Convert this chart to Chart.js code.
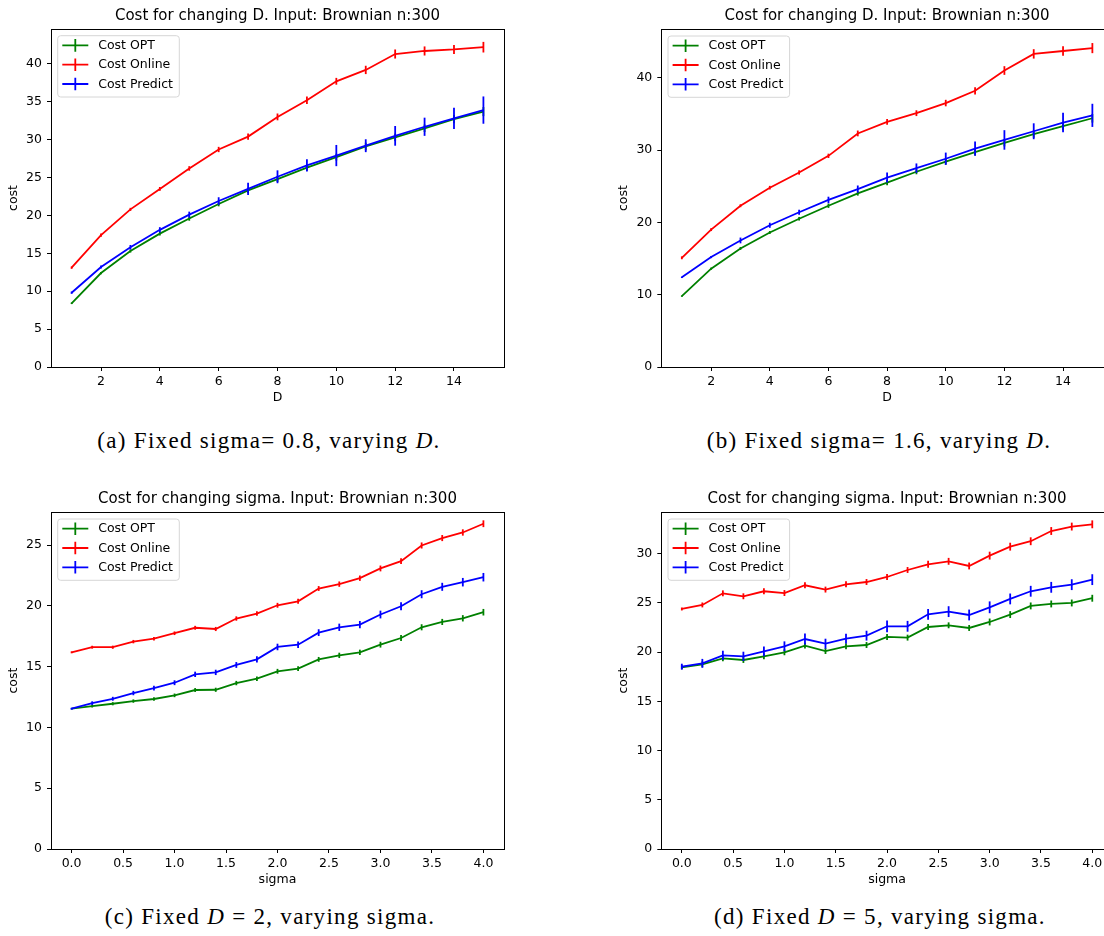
<!DOCTYPE html>
<html>
<head>
<meta charset="utf-8">
<script src="https://cdn.jsdelivr.net/npm/chart.js@4.4.0/dist/chart.umd.min.js"></script>
<style>
body{margin:0;width:1104px;height:936px;overflow:hidden;background:#fff;position:relative}
.panel{position:absolute}
.cap{position:absolute;font-family:"Liberation Serif",serif;font-size:23px;letter-spacing:1.3px;white-space:nowrap;transform:translateX(-50%);color:#000}
</style>
</head>
<body>
<div class="panel" style="left:0;top:0"><canvas id="g_a"></canvas></div>
<div class="panel" style="left:610px;top:0"><canvas id="g_b"></canvas></div>
<div class="panel" style="left:0;top:480px"><canvas id="g_c"></canvas></div>
<div class="panel" style="left:610px;top:480px"><canvas id="g_d"></canvas></div>

<div class="cap" style="left:269px;top:428px">(a) Fixed sigma= 0.8, varying <i>D</i>.</div>
<div class="cap" style="left:879px;top:428px">(b) Fixed sigma= 1.6, varying <i>D</i>.</div>
<div class="cap" style="left:270px;top:904px">(c) Fixed <i>D</i> = 2, varying sigma.</div>
<div class="cap" style="left:880px;top:904px">(d) Fixed <i>D</i> = 5, varying sigma.</div>

<script>
// x values
const d_valores = [1,2,3,4,5,6,7,8,9,10,11,12,13,14,15];
const sigma_valores = [0,0.2,0.4,0.6,0.8,1.0,1.2,1.4,1.6,1.8,2.0,2.2,2.4,2.6,2.8,3.0,3.2,3.4,3.6,3.8,4.0];

// tick labels
const ticks_x_d = [2,4,6,8,10,12,14];
const ticks_x_sigma = [0,0.5,1,1.5,2,2.5,3,3.5,4];
const ticks_y_a = [0,5,10,15,20,25,30,35,40];
const ticks_y_b = [0,10,20,30,40];
const ticks_y_c = [0,5,10,15,20,25];
const ticks_y_d = [0,5,10,15,20,25,30];

const nombres_series = ["Cost OPT","Cost Online","Cost Predict"];

// (a) sigma 0.8
const opt_a = [8.4,12.4,15.3,17.6,19.6,21.5,23.3,24.8,26.3,27.7,29.1,30.3,31.5,32.7,33.7];
const opt_a_err = [0.1,0.15,0.2,0.25,0.3,0.3,0.35,0.4,0.4,0.45,0.5,0.5,0.5,0.55,0.6];
const online_a = [13.1,17.4,20.8,23.5,26.2,28.7,30.4,33.0,35.2,37.7,39.2,41.3,41.7,41.9,42.2];
const online_a_err = [0.15,0.2,0.2,0.25,0.3,0.35,0.4,0.45,0.5,0.45,0.55,0.6,0.6,0.6,0.7];
const predict_a = [9.8,13.2,15.8,18.1,20.1,21.9,23.5,25.1,26.6,27.9,29.2,30.5,31.7,32.8,33.9];
const predict_a_err = [0.15,0.2,0.3,0.35,0.4,0.5,0.8,0.85,0.8,1.4,0.85,1.3,1.2,1.4,1.8];

// (b) sigma 1.6
const opt_b = [9.8,13.6,16.4,18.6,20.5,22.3,24.0,25.5,27.0,28.4,29.7,31.0,32.2,33.3,34.4];
const opt_b_err = [0.1,0.15,0.2,0.2,0.25,0.3,0.3,0.35,0.35,0.4,0.45,0.5,0.5,0.55,0.6];
const online_b = [15.1,19.0,22.3,24.8,26.9,29.2,32.3,33.9,35.1,36.5,38.2,41.0,43.3,43.7,44.1];
const online_b_err = [0.2,0.2,0.2,0.25,0.3,0.3,0.4,0.4,0.4,0.45,0.5,0.6,0.65,0.65,0.7];
const predict_b = [12.4,15.2,17.5,19.6,21.4,23.1,24.6,26.2,27.5,28.8,30.2,31.4,32.6,33.8,34.8];
const predict_b_err = [0.1,0.15,0.4,0.35,0.35,0.45,0.5,0.7,0.65,0.85,1.0,1.35,1.1,1.35,1.6];

// (c) D = 2
const opt_c = [11.54,11.76,11.95,12.17,12.34,12.64,13.08,13.1,13.65,14.01,14.62,14.84,15.6,15.93,16.18,16.81,17.36,18.24,18.68,18.98,19.48];
const opt_c_err = [0.05,0.12,0.13,0.14,0.15,0.15,0.16,0.17,0.18,0.18,0.2,0.2,0.2,0.22,0.22,0.24,0.24,0.25,0.25,0.26,0.27];
const online_c = [16.18,16.6,16.6,17.06,17.3,17.75,18.2,18.1,18.96,19.37,20.05,20.38,21.43,21.79,22.28,23.08,23.68,24.97,25.58,26.04,26.76];
const online_c_err = [0.08,0.12,0.13,0.14,0.15,0.15,0.16,0.17,0.18,0.18,0.2,0.2,0.2,0.22,0.22,0.24,0.24,0.25,0.25,0.26,0.28];
const predict_c = [11.54,12.0,12.36,12.83,13.24,13.68,14.37,14.53,15.14,15.6,16.62,16.81,17.8,18.24,18.46,19.29,19.97,20.96,21.57,21.95,22.36];
const predict_c_err = [0.08,0.15,0.16,0.18,0.2,0.2,0.22,0.22,0.24,0.25,0.27,0.27,0.28,0.3,0.3,0.32,0.32,0.33,0.33,0.35,0.35];

// (d) D = 5
const opt_d = [18.46,18.76,19.37,19.2,19.57,19.98,20.66,20.11,20.59,20.72,21.54,21.47,22.55,22.72,22.45,23.06,23.81,24.69,24.89,24.99,25.47];
const opt_d_err = [0.2,0.3,0.3,0.3,0.3,0.3,0.3,0.3,0.3,0.3,0.3,0.3,0.3,0.3,0.3,0.35,0.35,0.35,0.35,0.35,0.35];
const online_d = [24.38,24.79,25.97,25.67,26.18,26.0,26.79,26.35,26.89,27.12,27.63,28.34,28.92,29.22,28.75,29.8,30.71,31.26,32.3,32.75,32.98];
const online_d_err = [0.15,0.25,0.3,0.3,0.3,0.3,0.3,0.3,0.3,0.3,0.3,0.3,0.35,0.35,0.35,0.4,0.4,0.4,0.4,0.4,0.4];
const predict_d = [18.52,18.86,19.67,19.57,20.08,20.59,21.33,20.86,21.37,21.67,22.62,22.62,23.84,24.11,23.77,24.55,25.4,26.18,26.58,26.85,27.36];
const predict_d_err = [0.3,0.45,0.47,0.47,0.5,0.5,0.55,0.5,0.5,0.5,0.6,0.55,0.55,0.55,0.55,0.6,0.55,0.55,0.55,0.55,0.55];

const colores = ["green","red","blue"];
const fuente = '"DejaVu Sans", sans-serif';

// vertical error bars, drawn right after each line (like matplotlib errorbar)
const barras_error = {
    id: "barras_error",
    afterDatasetDraw(chart, args){
        const ctx = chart.ctx;
        const ds = chart.data.datasets[args.index];
        const x = chart.scales.x, y = chart.scales.y;
        ctx.save();
        ctx.strokeStyle = ds.borderColor;
        ctx.lineWidth = ds.borderWidth;
        ds.data.forEach(function(p, j){
            const e = ds.errores[j];
            const px = x.getPixelForValue(p.x);
            ctx.beginPath();
            ctx.moveTo(px, y.getPixelForValue(p.y - e));
            ctx.lineTo(px, y.getPixelForValue(p.y + e));
            ctx.stroke();
        });
        ctx.restore();
    }
};

// frame, title and the matplotlib-style legend
const marco = {
    id: "marco",
    afterDraw(chart, args, opts){
        const ctx = chart.ctx;
        const a = chart.chartArea;
        ctx.save();
        ctx.strokeStyle = "#000";
        ctx.lineWidth = 1;
        ctx.strokeRect(Math.round(a.left) + 0.5, Math.round(a.top) + 0.5, Math.round(a.right - a.left), Math.round(a.bottom - a.top));

        ctx.fillStyle = "#000";
        ctx.font = "15px " + fuente;
        ctx.textAlign = "center";
        ctx.textBaseline = "alphabetic";
        ctx.fillText(opts.titulo, (a.left + a.right) / 2, a.top - 9);

        // legend box
        const x0 = a.left + 6.7, y0 = a.top + 6.7, w = 121.6, h = 61.3, r = 3;
        ctx.beginPath();
        ctx.moveTo(x0 + r, y0);
        ctx.arcTo(x0 + w, y0, x0 + w, y0 + h, r);
        ctx.arcTo(x0 + w, y0 + h, x0, y0 + h, r);
        ctx.arcTo(x0, y0 + h, x0, y0, r);
        ctx.arcTo(x0, y0, x0 + w, y0, r);
        ctx.closePath();
        ctx.fillStyle = "rgba(255,255,255,0.8)";
        ctx.fill();
        ctx.strokeStyle = "#d6d6d6";
        ctx.stroke();

        ctx.font = "12.5px " + fuente;
        ctx.textAlign = "left";
        ctx.textBaseline = "middle";
        for(let i = 0; i < nombres_series.length; i++){
            const yy = y0 + 9.7 + i * 19.3;
            ctx.strokeStyle = colores[i];
            ctx.lineWidth = 1.8;
            ctx.beginPath();
            ctx.moveTo(x0 + 4.6, yy);
            ctx.lineTo(x0 + 30.6, yy);
            ctx.moveTo(x0 + 17.6, yy - 6.3);
            ctx.lineTo(x0 + 17.6, yy + 6.3);
            ctx.stroke();
            ctx.fillStyle = "#000";
            ctx.fillText(nombres_series[i], x0 + 40.5, yy + 0.5);
        }
        ctx.restore();
    }
};

function grafico(id, cfg){
    const canvas = document.getElementById(id);
    canvas.width = 520;
    canvas.height = Math.round(cfg.abajo + 43);

    const series = [cfg.opt, cfg.online, cfg.predict];
    const errores = [cfg.opt_err, cfg.online_err, cfg.predict_err];

    let datasets = [];
    for(let i = 0; i < 3; i++){
        datasets.push({
            label: nombres_series[i],
            data: cfg.xs.map(function(v, j){ return {x: v, y: series[i][j]}; }),
            errores: errores[i],
            borderColor: colores[i],
            backgroundColor: colores[i],
            borderWidth: 1.8,
            pointRadius: 0,
            tension: 0,
            fill: false,
            order: 2 - i
        });
    }

    new Chart(canvas.getContext("2d"), {
        type: "line",
        data: {datasets: datasets},
        plugins: [barras_error, marco],
        options: {
            responsive: false,
            animation: false,
            events: [],
            layout: {
                padding: {top: cfg.arriba, right: 520 - cfg.derecha, left: 0, bottom: 0}
            },
            plugins: {
                legend: {display: false},
                tooltip: {enabled: false},
                marco: {titulo: cfg.titulo}
            },
            scales: {
                x: {
                    type: "linear",
                    min: cfg.xmin,
                    max: cfg.xmax,
                    afterBuildTicks: function(s){ s.ticks = cfg.ticks_x.map(function(v){ return {value: v}; }); },
                    afterFit: function(s){ s.height = 43; },
                    grid: {drawOnChartArea: false, drawTicks: true, tickLength: 4, tickColor: "#000", tickWidth: 1},
                    border: {display: false},
                    ticks: {
                        color: "#000",
                        padding: 3,
                        maxRotation: 0,
                        font: {family: fuente, size: 12.5},
                        callback: function(v){ return cfg.decimales ? v.toFixed(1) : String(v); }
                    },
                    title: {display: true, text: cfg.titulo_x, color: "#000", font: {family: fuente, size: 12.5}, padding: {top: 0, bottom: 4.5}}
                },
                y: {
                    type: "linear",
                    min: 0,
                    max: cfg.ymax,
                    afterBuildTicks: function(s){ s.ticks = cfg.ticks_y.map(function(v){ return {value: v}; }); },
                    afterFit: function(s){ s.width = cfg.izquierda; },
                    grid: {drawOnChartArea: false, drawTicks: true, tickLength: 4, tickColor: "#000", tickWidth: 1},
                    border: {display: false},
                    ticks: {
                        color: "#000",
                        padding: 5,
                        font: {family: fuente, size: 12.5}
                    },
                    title: {display: true, text: "cost", color: "#000", font: {family: fuente, size: 12.5}, padding: {top: 6.5, bottom: 0}}
                }
            }
        }
    });
}

grafico("g_a", {
    titulo: "Cost for changing D. Input: Brownian n:300", titulo_x: "D",
    xs: d_valores, xmin: 0.3, xmax: 15.7, ymax: 44.6, ticks_x: ticks_x_d, ticks_y: ticks_y_a, decimales: false,
    opt: opt_a, opt_err: opt_a_err, online: online_a, online_err: online_a_err, predict: predict_a, predict_err: predict_a_err,
    izquierda: 51, arriba: 29, derecha: 504, abajo: 367
});
grafico("g_b", {
    titulo: "Cost for changing D. Input: Brownian n:300", titulo_x: "D",
    xs: d_valores, xmin: 0.3, xmax: 15.7, ymax: 46.7, ticks_x: ticks_x_d, ticks_y: ticks_y_b, decimales: false,
    opt: opt_b, opt_err: opt_b_err, online: online_b, online_err: online_b_err, predict: predict_b, predict_err: predict_b_err,
    izquierda: 51.3, arriba: 29.3, derecha: 502.9, abajo: 366.7
});
grafico("g_c", {
    titulo: "Cost for changing sigma. Input: Brownian n:300", titulo_x: "sigma",
    xs: sigma_valores, xmin: -0.2, xmax: 4.2, ymax: 27.7, ticks_x: ticks_x_sigma, ticks_y: ticks_y_c, decimales: true,
    opt: opt_c, opt_err: opt_c_err, online: online_c, online_err: online_c_err, predict: predict_c, predict_err: predict_c_err,
    izquierda: 51, arriba: 32.3, derecha: 504, abajo: 368.7
});
grafico("g_d", {
    titulo: "Cost for changing sigma. Input: Brownian n:300", titulo_x: "sigma",
    xs: sigma_valores, xmin: -0.2, xmax: 4.2, ymax: 34.2, ticks_x: ticks_x_sigma, ticks_y: ticks_y_d, decimales: true,
    opt: opt_d, opt_err: opt_d_err, online: online_d, online_err: online_d_err, predict: predict_d, predict_err: predict_d_err,
    izquierda: 51.3, arriba: 32.3, derecha: 502.8, abajo: 368.7
});
</script>
</body>
</html>
